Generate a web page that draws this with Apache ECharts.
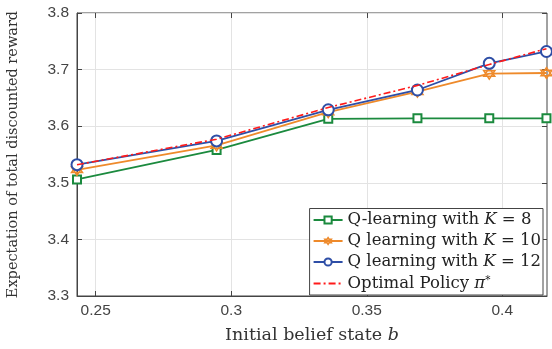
<!DOCTYPE html>
<html><head><meta charset="utf-8">
<script src="https://cdn.jsdelivr.net/npm/echarts@6/dist/echarts.min.js"></script>
<style>html,body{margin:0;padding:0;background:#fff}#c{width:552px;height:349px}</style>
</head><body><div id="c"></div>
<script>
const beliefStates = [0.2431, 0.2946, 0.3358, 0.3687, 0.3952, 0.4163];
const qK8  = [3.506, 3.558, 3.613, 3.614, 3.614, 3.614];
const qK10 = [3.523, 3.566, 3.625, 3.661, 3.693, 3.694];
const qK12 = [3.532, 3.574, 3.629, 3.664, 3.711, 3.732];
const optimal = [3.532, 3.577, 3.633, 3.672, 3.709, 3.737];
const xTicks = [0.25, 0.3, 0.35, 0.4];

const GREEN = '#1b8a3e', ORANGE = '#ee8a2b', BLUE = '#2e4ea6', RED = '#ff1a1a';
const pts = ys => beliefStates.map((x, i) => [x, ys[i]]);
const star = 'path://M0,-10L8.66,5L-8.66,5Z M0,10L8.66,-5L-8.66,-5Z';
const serif = 'DejaVu Serif';
const LF = 16.5;
const rich = {
  i: {fontFamily: serif, fontStyle: 'italic', fontSize: LF, color: '#222'},
  s: {fontFamily: serif, fontSize: 10.5, color: '#222', verticalAlign: 'top', padding: [0,0,7,0]}
};
const chart = echarts.init(document.getElementById('c'), null, {renderer: 'canvas'});
const axLine = {show: true, lineStyle: {color: '#444', width: 1}};
chart.setOption({
  animation: false,
  grid: {left: 77, right: 5, top: 13, bottom: 53, show: true, borderColor: '#444', borderWidth: 1,
    containLabel: false, outerBoundsMode: 'none'},
  xAxis: [{
    type: 'value', min: 0.2431, max: 0.4165,
    axisLine: axLine,
    axisLabel: {fontFamily: 'Liberation Sans', fontSize: 15.5, color: '#444', margin: 7,
      customValues: xTicks, formatter: v => String(+v.toFixed(2))},
    axisTick: {inside: true, length: 5, customValues: xTicks, lineStyle: {color: '#444'}},
    splitLine: {show: true, lineStyle: {color: '#e3e3e3'}},
    name: 'Initial belief state {i|b}', nameLocation: 'middle', nameGap: 30,
    nameTextStyle: {fontFamily: serif, fontSize: 17.5, color: '#333', rich: {i: {fontFamily: serif, fontStyle: 'italic', fontSize: 17.5, color: '#333'}}}
  }, {
    type: 'value', position: 'top', min: 0.2431, max: 0.4165,
    axisLine: {show: false}, axisLabel: {show: false}, splitLine: {show: false},
    axisTick: {show: true, inside: true, length: 5, customValues: xTicks, lineStyle: {color: '#444'}}
  }],
  yAxis: [{
    type: 'value', min: 3.3, max: 3.8, interval: 0.1,
    axisLine: axLine, axisTick: {show: true, inside: true, length: 5, lineStyle: {color: '#444'}},
    axisLabel: {fontFamily: 'Liberation Sans', fontSize: 15.5, color: '#444', margin: 8, formatter: v => v.toFixed(1)},
    splitLine: {show: true, lineStyle: {color: '#e3e3e3'}},
    name: 'Expectation of total discounted reward', nameLocation: 'middle', nameGap: 56,
    nameTextStyle: {fontFamily: serif, fontSize: 14.5, color: '#333'}
  }, {
    type: 'value', position: 'right', min: 3.3, max: 3.8, interval: 0.1,
    axisLine: {show: false}, axisLabel: {show: false}, splitLine: {show: false},
    axisTick: {show: true, inside: true, length: 5, lineStyle: {color: '#444'}}
  }],
  legend: {
    orient: 'vertical', right: 9, bottom: 54, itemWidth: 29, itemHeight: 9, itemGap: 4,
    padding: [3, 2, 3, 3],
    backgroundColor: '#fff', borderColor: '#444', borderWidth: 1,
    textStyle: {fontFamily: serif, fontSize: LF, color: '#222', rich: rich},
    formatter: n => ({
      k8: 'Q-learning with {i|K} = 8', k10: 'Q learning with {i|K} = 10',
      k12: 'Q learning with {i|K} = 12', opt: 'Optimal Policy {i|π}{s|*}'
    })[n],
    data: ['k8',
      {name: 'k10', itemStyle: {color: '#fff', borderColor: ORANGE, borderWidth: 1.2}},
      'k12', {name: 'opt', itemStyle: {opacity: 0}}]
  },
  series: [
    {name: 'k8', type: 'line', data: pts(qK8), symbol: 'emptyRect', symbolSize: 8, color: GREEN,
      lineStyle: {width: 1.8, color: GREEN}, itemStyle: {color: GREEN, borderWidth: 1.5}, z: 2},
    {name: 'k10', type: 'line', data: pts(qK10), symbol: star, symbolSize: 11, color: ORANGE,
      lineStyle: {width: 1.8, color: ORANGE}, itemStyle: {color: 'rgba(255,255,255,0)', borderColor: ORANGE, borderWidth: 1.5}, z: 3},
    {name: 'k12', type: 'line', data: pts(qK12), symbol: 'emptyCircle', symbolSize: 11, color: BLUE,
      lineStyle: {width: 1.8, color: BLUE}, itemStyle: {color: BLUE, borderWidth: 1.6}, z: 4},
    {name: 'opt', type: 'line', data: pts(optimal), symbol: 'none', color: RED,
      lineStyle: {width: 1.6, color: RED, type: [7, 3, 2, 3]}, z: 5}
  ]
});
</script></body></html>
